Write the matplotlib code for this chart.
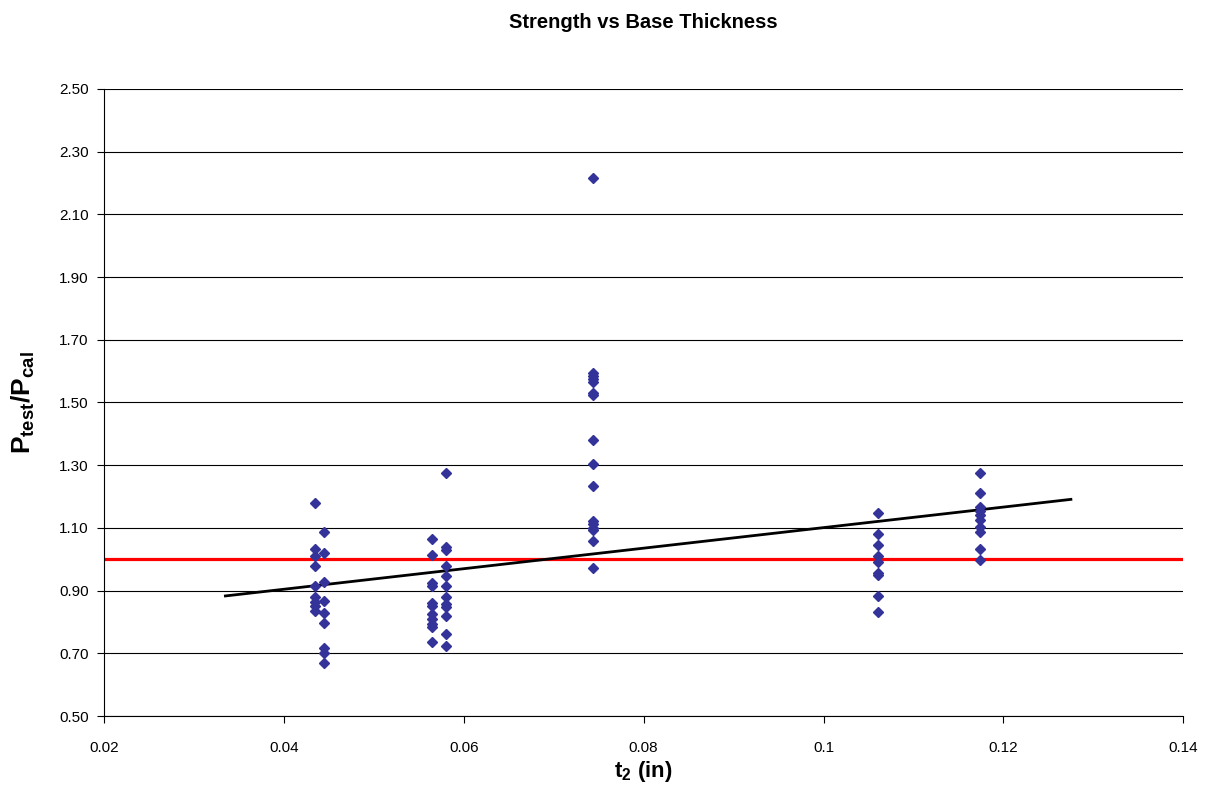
import numpy as np
import matplotlib
matplotlib.use("Agg")
import matplotlib.pyplot as plt

plt.rcParams['font.family'] = ['Liberation Sans', 'DejaVu Sans']
plt.rcParams['mathtext.fontset'] = 'custom'
plt.rcParams['mathtext.rm'] = 'Liberation Sans'
plt.rcParams['mathtext.bf'] = 'Liberation Sans:bold'

# t2 groups and the test/calc ratios
t2_groups = [0.0435, 0.0445, 0.0565, 0.058, 0.0744, 0.106, 0.1174]
ratios = [
    [1.178, 1.032, 1.011, 0.978, 0.915, 0.880, 0.865, 0.851, 0.836],
    [1.086, 1.021, 0.928, 0.868, 0.828, 0.796, 0.716, 0.700, 0.668],
    [1.065, 1.013, 0.925, 0.915, 0.862, 0.850, 0.825, 0.810, 0.795, 0.785, 0.737],
    [1.274, 1.040, 1.030, 0.977, 0.945, 0.916, 0.880, 0.856, 0.848, 0.819, 0.761, 0.722],
    [2.217, 1.595, 1.585, 1.575, 1.565, 1.530, 1.524, 1.380, 1.303, 1.234,
     1.122, 1.111, 1.100, 1.092, 1.058, 0.971],
    [1.147, 1.080, 1.046, 1.010, 0.990, 0.957, 0.949, 0.884, 0.833],
    [1.276, 1.212, 1.167, 1.155, 1.141, 1.125, 1.104, 1.088, 1.032, 0.998],
]

# linear trendline ends as drawn on the chart
trend_x = [0.0335, 0.1275]
trend_y = [0.883, 1.191]

x = np.concatenate([[t] * len(r) for t, r in zip(t2_groups, ratios)])
y = np.concatenate(ratios)

fig = plt.figure(figsize=(12.06, 7.94), dpi=100)
ax = fig.add_axes([0.0862, 0.0982, 0.8950, 0.7898])

ax.plot(x, y, linestyle='none', marker='D', ms=4.8, color='#333399', zorder=4)
ax.plot(trend_x, trend_y, color='black', lw=2, zorder=3)
ax.axhline(1.0, color='red', lw=2.3, zorder=2)

ax.set_xlim(0.02, 0.14)
ax.set_ylim(0.5, 2.5)
ax.set_xticks([0.02, 0.04, 0.06, 0.08, 0.1, 0.12, 0.14])
ax.set_xticklabels(['0.02', '0.04', '0.06', '0.08', '0.1', '0.12', '0.14'])
ax.set_yticks(np.arange(0.5, 2.51, 0.2))
ax.set_yticklabels([f'{v:.2f}' for v in np.arange(0.5, 2.51, 0.2)])
ax.yaxis.grid(True, color='black', lw=0.8)
ax.set_axisbelow(True)
for s in ['top', 'right']:
    ax.spines[s].set_visible(False)
ax.tick_params(direction='out', length=5, labelsize=11)
ax.tick_params(axis='x', pad=13)
ax.tick_params(axis='y', pad=6)

ax.set_title('Strength vs Base Thickness', fontsize=14.5, fontweight='bold', pad=44)
ax.set_xlabel(r'$\mathbf{t_2}$ (in)', fontsize=16, fontweight='bold', labelpad=3)
ax.set_ylabel(r'$\mathbf{P_{test}/P_{cal}}$', fontsize=19, labelpad=16)

fig.savefig('out.png', dpi=100)
